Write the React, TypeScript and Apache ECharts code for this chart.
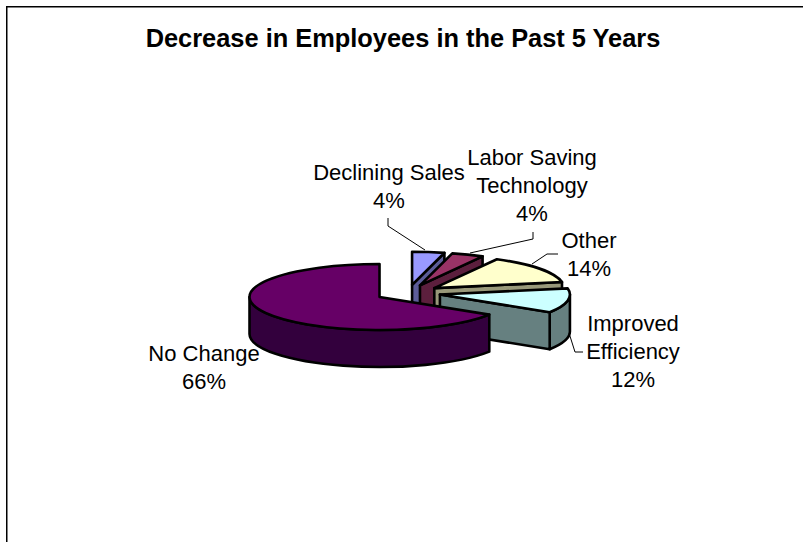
import React, { useEffect, useRef } from "react";
import * as echarts from "echarts";

// Employee-decrease reasons, in clockwise order starting at twelve o'clock.
const categories = ["Declining Sales", "Labor Saving Technology", "Other", "Improved Efficiency", "No Change"];
const shares = [4, 4, 14, 12, 66];
const titleText = "Decrease in Employees in the Past 5 Years";
const labelNames = ["Declining Sales", "Labor Saving\nTechnology", "Other", "Improved\nEfficiency", "No Change"];

const topColors = ["#9999FF", "#993366", "#FFFFCC", "#CCFFFF", "#660066"];
const sideColors = ["#5C5C99", "#5C1F3D", "#99997A", "#668080", "#33003D"];

// Pie projection, in pixels.
const PIE = { cx: 408, cy: 293, rx: 130, ry: 33, depth: 37, explode: 0.25 };
const labelAnchors = [
  [389, 158],
  [532, 143],
  [589, 226],
  [633, 309],
  [204, 339],
];
const leaders = [
  [[388, 218], [388, 226], [425, 250]],
  [[533, 232], [533, 239], [470, 253]],
  [[558, 254], [547, 254], [532, 264]],
  [[583, 352], [575, 352], [569, 333]],
];

const toRad = (deg: number) => (deg * Math.PI) / 180;

function renderSlice(params: any, api: any) {
  const i = params.dataIndex;
  const total = shares.reduce((a, b) => a + b, 0);
  const before = shares.slice(0, i).reduce((a, b) => a + b, 0);
  const start = (before / total) * 360;
  const end = ((before + api.value(0)) / total) * 360;
  const mid = (start + end) / 2;

  const ox = PIE.cx + PIE.explode * PIE.rx * Math.sin(toRad(mid));
  const oy = PIE.cy - PIE.explode * PIE.ry * Math.cos(toRad(mid));
  const pt = (a: number) => [ox + PIE.rx * Math.sin(toRad(a)), oy - PIE.ry * Math.cos(toRad(a))];
  const arc = (to: number, large: boolean, sweep: number, dy = 0) => {
    const p = pt(to);
    return `A${PIE.rx} ${PIE.ry} 0 ${large ? 1 : 0} ${sweep} ${p[0]} ${p[1] + dy}`;
  };

  const stroke = { stroke: "#000", lineWidth: 2.6, lineJoin: "round" };
  const children: any[] = [];
  const d = PIE.depth;

  // Outer wall: only the part of the rim facing the viewer shows.
  const wallFrom = Math.max(start, 90);
  const wallTo = Math.min(end, 270);
  if (wallTo > wallFrom) {
    const a = pt(wallFrom);
    const b = pt(wallTo);
    const large = wallTo - wallFrom > 180;
    children.push({
      type: "path",
      shape: {
        pathData: `M${a[0]} ${a[1]}${arc(wallTo, large, 1)}L${b[0]} ${b[1] + d}${arc(wallFrom, large, 0, d)}Z`,
      },
      style: { fill: sideColors[i], ...stroke },
    });
  }

  // Cut wall along the closing radius, when it faces forward.
  if (end < 180) {
    const e = pt(end);
    children.push({
      type: "path",
      shape: { pathData: `M${ox} ${oy}L${e[0]} ${e[1]}L${e[0]} ${e[1] + d}L${ox} ${oy + d}Z` },
      style: { fill: sideColors[i], ...stroke },
    });
  }

  // Top face.
  const s = pt(start);
  children.push({
    type: "path",
    shape: { pathData: `M${ox} ${oy}L${s[0]} ${s[1]}${arc(end, end - start > 180, 1)}Z` },
    style: { fill: topColors[i], ...stroke },
  });

  return { type: "group", children };
}

export default function App() {
  const ref = useRef<HTMLDivElement>(null);

  useEffect(() => {
    const chart = echarts.init(ref.current!, undefined, { renderer: "svg" });
    const font = '"Liberation Sans", Arial, sans-serif';
    chart.setOption({
      animation: false,
      backgroundColor: "#fff",
      title: {
        text: titleText,
        left: 398,
        top: 20,
        textAlign: "center",
        textStyle: { fontFamily: font, fontSize: 25.4, fontWeight: "bold", color: "#000" },
      },
      series: [
        {
          type: "custom",
          coordinateSystem: "none",
          renderItem: renderSlice,
          data: shares.map((v, i) => ({ name: categories[i], value: [v] })),
          silent: true,
        },
      ],
      graphic: [
        {
          type: "polyline",
          silent: true,
          shape: { points: [[803, 6.75], [6.75, 6.75], [6.75, 542]] },
          style: { fill: "none", stroke: "#000", lineWidth: 1.5 },
        },
        ...leaders.map((points) => ({
          type: "polyline",
          silent: true,
          z: 10,
          shape: { points },
          style: { fill: "none", stroke: "#000", lineWidth: 1 },
        })),
        ...labelNames.map((name, i) => ({
          type: "text",
          silent: true,
          z: 11,
          x: labelAnchors[i][0],
          y: labelAnchors[i][1],
          style: {
            text: `${name}\n${shares[i]}%`,
            font: `22px ${font}`,
            lineHeight: 28,
            fill: "#000",
            align: "center",
            verticalAlign: "top",
          },
        })),
      ],
    });
    return () => chart.dispose();
  }, []);

  return <div ref={ref} style={{ position: "absolute", left: 0, top: 0, width: 803, height: 542 }} />;
}
